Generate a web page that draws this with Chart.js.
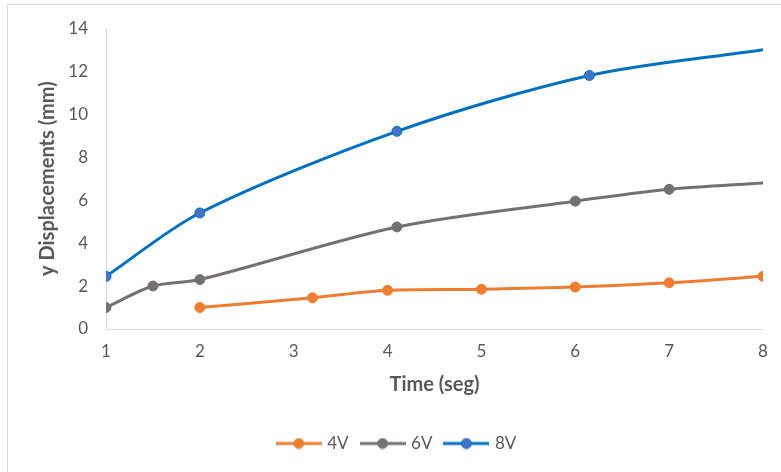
<!DOCTYPE html>
<html>
<head>
<meta charset="utf-8">
<script src="https://cdn.jsdelivr.net/npm/chart.js@4/dist/chart.umd.min.js"></script>
<style>
  body { margin: 0; background: #fff; }
  canvas { display: block; }
</style>
</head>
<body>
<canvas id="chart" width="781" height="472"></canvas>
<script>
// values
const seriesNames = ['4V', '6V', '8V'];
const time4V = [2, 3.2, 4, 5, 6, 7, 8];
const disp4V = [1, 1.45, 1.8, 1.85, 1.95, 2.15, 2.45];
const time6V = [1, 1.5, 2, 4.1, 6, 7, 8];
const disp6V = [1, 2, 2.3, 4.75, 5.95, 6.5, 6.8];
const time8V = [1, 2, 4.1, 6.15, 8];
const disp8V = [2.45, 5.4, 9.2, 11.8, 13];

const lineColors = ['#ED7D31', '#767171', '#0070C0'];
const markerFill = ['#ED7D31', '#767171', '#4472C4'];
const TEXT = '#595959';
const FONT = 'Lato, "Open Sans", sans-serif';

function toPoints(xs, ys) {
    return xs.map((x, i) => ({ x: x, y: ys[i] }));
}

// last point of 6V and 8V has no marker in the reference
function radii(n, hideLast) {
    return Array.from({ length: n }, (_, i) => (hideLast && i === n - 1) ? 0 : 5);
}

function legendIcon(line, fill) {
    const c = document.createElement('canvas');
    c.width = 46; c.height = 12;
    const g = c.getContext('2d');
    g.strokeStyle = line; g.lineWidth = 3;
    g.beginPath(); g.moveTo(0, 6); g.lineTo(46, 6); g.stroke();
    g.fillStyle = fill; g.strokeStyle = line; g.lineWidth = 1;
    g.beginPath(); g.arc(23, 6, 5, 0, Math.PI * 2); g.fill(); g.stroke();
    return c;
}

const frame = {
    id: 'frame',
    beforeDraw(chart) {
        const ctx = chart.ctx;
        ctx.save();
        ctx.strokeStyle = '#d9d9d9';
        ctx.lineWidth = 1;
        ctx.beginPath();
        ctx.moveTo(7.5, 472); ctx.lineTo(7.5, 4.5); ctx.lineTo(781, 4.5);
        ctx.stroke();
        ctx.restore();
    }
};

const datasets = [
    [time4V, disp4V, false],
    [time6V, disp6V, true],
    [time8V, disp8V, true]
].map((s, i) => ({
    label: seriesNames[i],
    data: toPoints(s[0], s[1]),
    borderColor: lineColors[i],
    backgroundColor: markerFill[i],
    pointBackgroundColor: markerFill[i],
    pointBorderColor: lineColors[i],
    pointBorderWidth: 1,
    pointRadius: radii(s[0].length, s[2]),
    borderWidth: 3,
    tension: 0.3,
    fill: false
}));

new Chart(document.getElementById('chart'), {
    type: 'line',
    data: { datasets: datasets },
    options: {
        responsive: false,
        animation: false,
        layout: { padding: { left: 32, right: 18, top: 28, bottom: 10 } },
        plugins: {
            tooltip: { enabled: false },
            legend: {
                position: 'bottom',
                labels: {
                    usePointStyle: true,
                    pointStyleWidth: 40,
                    padding: 14,
                    color: TEXT,
                    font: { family: FONT, size: 17 },
                    generateLabels(chart) {
                        const items = Chart.defaults.plugins.legend.labels.generateLabels(chart);
                        items.forEach((it, i) => {
                            it.pointStyle = legendIcon(lineColors[i], markerFill[i]);
                        });
                        return items;
                    }
                }
            }
        },
        scales: {
            x: {
                type: 'linear',
                min: 1, max: 8,
                grid: { display: false, drawTicks: false },
                border: { color: '#d9d9d9' },
                ticks: { stepSize: 1, padding: 12, color: TEXT, font: { family: FONT, size: 17 } },
                title: { display: true, text: 'Time (seg)', color: TEXT, padding: { top: 4, bottom: 24 },
                         font: { family: FONT, size: 20, weight: 'bold' } },
                afterFit(scale) { scale.height = 92; }
            },
            y: {
                min: 0, max: 14,
                grid: { display: false, drawTicks: false },
                border: { color: '#d9d9d9' },
                ticks: { stepSize: 2, padding: 18, color: TEXT, font: { family: FONT, size: 17 } },
                title: { display: true, text: 'y Displacements (mm)', color: TEXT, padding: 4,
                         font: { family: FONT, size: 20, weight: 'bold' } },
                afterFit(scale) { scale.width = 106 - 32; }
            }
        }
    },
    plugins: [frame]
});
</script>
</body>
</html>
